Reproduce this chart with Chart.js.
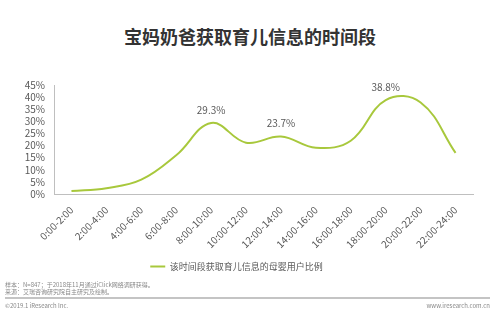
<!DOCTYPE html>
<html>
<head>
<meta charset="utf-8">
<script src="https://cdn.jsdelivr.net/npm/chart.js@4/dist/chart.umd.min.js"></script>
<style>
  html, body { margin: 0; padding: 0; background: #fff; }
  body { width: 500px; height: 325px; position: relative; overflow: hidden; font-family: "Noto Sans CJK SC", "Noto Sans", sans-serif; }
  #title { position: absolute; left: 0; width: 500px; top: 24px; text-align: center; font-size: 18px; font-weight: bold; color: #333; line-height: 24px; }
  #wrap { position: absolute; left: 0; top: 0; width: 500px; height: 325px; }
  .foot { position: absolute; left: 5px; font-size: 6px; color: #888; line-height: 7px; white-space: nowrap; }
  #sep { position: absolute; left: 5px; width: 485px; top: 297px; height: 2px; background: #c4c4c4; }
  #site { position: absolute; right: 10px; top: 302px; font-size: 6px; color: #888; line-height: 7px; }
</style>
</head>
<body>
<div id="title">宝妈奶爸获取育儿信息的时间段</div>
<div id="wrap"><canvas id="c"></canvas></div>
<div class="foot" style="top:281px">样本：N=847；于2018年11月通过iClick网络调研获得。</div>
<div class="foot" style="top:288px">来源：艾瑞咨询研究院自主研究及绘制。</div>
<div id="sep"></div>
<div class="foot" style="top:302px">©2019.1 iResearch Inc.</div>
<div id="site">www.iresearch.com.cn</div>
<script>
const categories = ["0:00-2:00","2:00-4:00","4:00-6:00","6:00-8:00","8:00-10:00","10:00-12:00","12:00-14:00","14:00-16:00","16:00-18:00","18:00-20:00","20:00-22:00","22:00-24:00"];
const seriesName = "该时间段获取育儿信息的母婴用户比例";
const values = [1.2, 2.4, 5.9, 16.0, 29.3, 21.2, 23.7, 19.1, 22.0, 38.8, 37.8, 17.0];
const labelledIndexes = [4, 6, 9];
const yTicks = [0, 5, 10, 15, 20, 25, 30, 35, 40, 45];

const lineColor = "#a8c83c";
const textColor = "#595959";
const fontFamily = '"Noto Sans CJK SC", "Noto Sans", sans-serif';

const dataLabelPlugin = {
  id: "dataLabels",
  afterDatasetsDraw(chart) {
    const meta = chart.getDatasetMeta(0);
    const ctx = chart.ctx;
    ctx.save();
    ctx.font = "10px " + fontFamily;
    ctx.fillStyle = textColor;
    ctx.textAlign = "center";
    ctx.textBaseline = "middle";
    labelledIndexes.forEach(i => {
      const p = meta.data[i];
      ctx.fillText(values[i].toFixed(1) + "%", p.x, p.y - 13);
    });
    ctx.restore();
  }
};

new Chart(document.getElementById("c"), {
  type: "line",
  data: {
    labels: categories,
    datasets: [{
      label: seriesName,
      data: values,
      borderColor: lineColor,
      backgroundColor: lineColor,
      borderWidth: 2,
      pointRadius: 0,
      tension: 0.4,
      fill: false
    }]
  },
  options: {
    responsive: true,
    maintainAspectRatio: false,
    animation: false,
    layout: { padding: { top: 85, left: 0, right: 27, bottom: 44 } },
    plugins: {
      legend: {
        position: "bottom",
        labels: {
          boxWidth: 15,
          boxHeight: 2,
          color: textColor,
          font: { size: 9, family: fontFamily },
          padding: 10,
          generateLabels(chart) {
            const items = Chart.defaults.plugins.legend.labels.generateLabels(chart);
            items.forEach(it => { it.lineWidth = 0; });
            return items;
          }
        }
      },
      tooltip: { enabled: false },
      title: { display: false }
    },
    scales: {
      x: {
        offset: true,
        grid: { display: false },
        border: { display: true, color: "#bfbfbf", width: 1 },
        ticks: {
          color: textColor,
          font: { size: 10, family: fontFamily },
          maxRotation: 45,
          minRotation: 45,
          autoSkip: false,
          padding: 2
        },
        afterFit(scale) { scale.height = 58; }
      },
      y: {
        min: 0,
        max: 45,
        grid: { display: false },
        border: { display: true, color: "#bfbfbf", width: 1 },
        afterBuildTicks(scale) { scale.ticks = yTicks.map(v => ({ value: v })); },
        ticks: {
          color: textColor,
          font: { size: 10, family: fontFamily },
          padding: 1,
          autoSkip: false,
          callback: v => v + "%"
        },
        afterFit(scale) { scale.width = 54; }
      }
    }
  },
  plugins: [dataLabelPlugin]
});
</script>
</body>
</html>
